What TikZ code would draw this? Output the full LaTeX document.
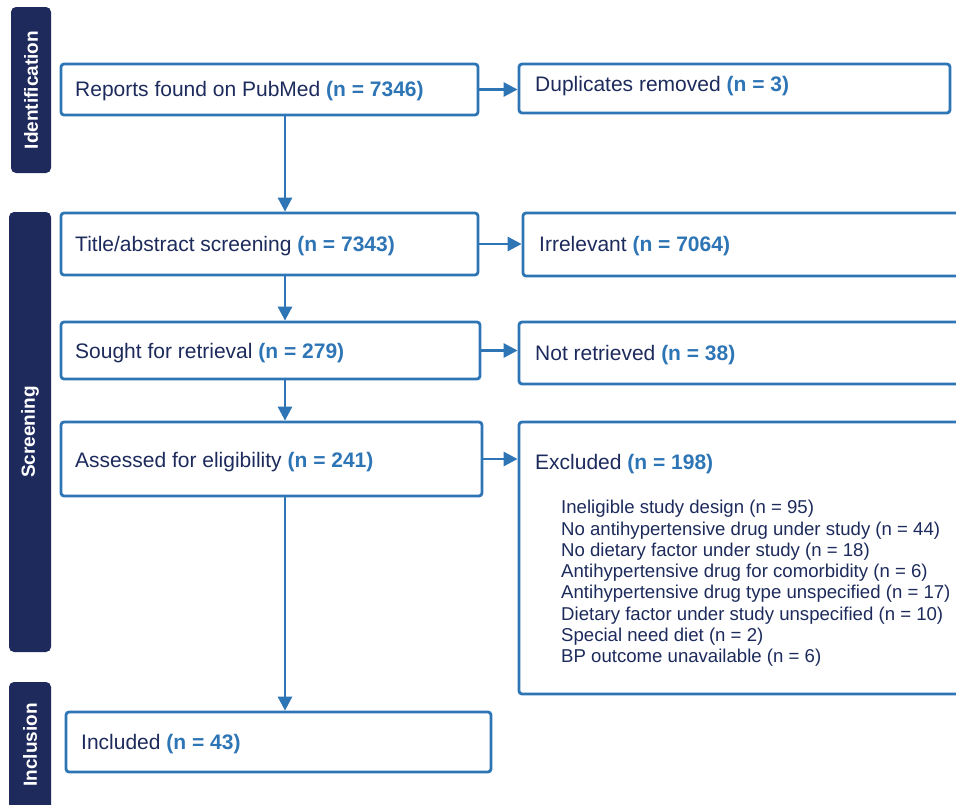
\documentclass[tikz,border=0pt]{standalone}
\usepackage{fontspec}
\setmainfont{Liberation Sans}
\usetikzlibrary{arrows.meta}
\definecolor{navy}{HTML}{1F2A5C}
\definecolor{pblue}{HTML}{2E75B6}
\definecolor{txt}{HTML}{1D2B5C}
\newcommand{\cnt}[1]{\textcolor{pblue}{\bfseries #1}}
\tikzset{
  box/.style={draw=pblue, line width=2.8pt, rounded corners=3pt, fill=white, inner sep=0pt},
  side/.style={fill=navy, rounded corners=5pt, rotate=90, text=white, font=\fontsize{19}{22}\selectfont\bfseries, inner sep=0pt},
  lbl/.style={anchor=west, text=txt, font=\fontsize{21}{25}\selectfont, inner sep=0pt},
  item/.style={anchor=west, text=txt, font=\fontsize{18.6}{21}\selectfont, inner sep=0pt},
  arr/.style={draw=pblue, line width=2.8pt, -{Triangle[length=14pt,width=14pt]}}
}
\begin{document}
\begin{tikzpicture}[x=1pt,y=-1pt]
\useasboundingbox (0,0) rectangle (956,804);
\clip (0,0) rectangle (956,804);
% sidebars
\node[side, minimum width=166, minimum height=40] (sideid) at (31,90) {Identification};
\node[side, minimum width=440, minimum height=42] (sidescr) at (30,432) {Screening};
\node[side, minimum width=140, minimum height=42] (sideinc) at (30,752) {};
\node[side, fill=none] (sideinctext) at (30,745) {Inclusion};
% boxes
\node[box, minimum width=417, minimum height=51] (reports) at (269.5,89.5) {};
\node[box, minimum width=431, minimum height=49] (dup) at (734.5,88.5) {};
\node[box, minimum width=417, minimum height=62] (title) at (269.5,244) {};
\node[box, minimum width=477, minimum height=63] (irr) at (761.5,244.5) {};
\node[box, minimum width=419, minimum height=57] (sought) at (270.5,350.5) {};
\node[box, minimum width=481, minimum height=62] (notret) at (759.5,353) {};
\node[box, minimum width=421, minimum height=74] (assessed) at (271.5,459) {};
\node[box, minimum width=481, minimum height=272] (excl) at (759.5,558) {};
\node[box, minimum width=425, minimum height=60] (incl) at (278.5,742) {};
% labels
\node[lbl] (treports) at (75,91.5) {Reports found on PubMed \cnt{(n = 7346)}};
\node[lbl] (tdup) at (535,86.5) {Duplicates removed \cnt{(n = 3)}};
\node[lbl] (ttitle) at (75,246.5) {Title/abstract screening \cnt{(n = 7343)}};
\node[lbl] (tirr) at (539,246.5) {Irrelevant \cnt{(n = 7064)}};
\node[lbl] (tsought) at (75,353.5) {Sought for retrieval \cnt{(n = 279)}};
\node[lbl] (tnotret) at (535,355.5) {Not retrieved \cnt{(n = 38)}};
\node[lbl] (tassessed) at (75,462.5) {Assessed for eligibility \cnt{(n = 241)}};
\node[lbl] (texcl) at (535,464.5) {Excluded \cnt{(n = 198)}};
\node[lbl] (tincl) at (81,744.5) {Included \cnt{(n = 43)}};
\node[item] (e1) at (561,509) {Ineligible study design (n = 95)};
\node[item] (e2) at (561,530.3) {No antihypertensive drug under study (n = 44)};
\node[item] (e3) at (561,551.6) {No dietary factor under study (n = 18)};
\node[item] (e4) at (561,572.9) {Antihypertensive drug for comorbidity (n = 6)};
\node[item] (e5) at (561,594.1) {Antihypertensive drug type unspecified (n = 17)};
\node[item] (e6) at (561,615.4) {Dietary factor under study unspecified (n = 10)};
\node[item] (e7) at (561,636.7) {Special need diet (n = 2)};
\node[item] (e8) at (561,658) {BP outcome unavailable (n = 6)};
% connectors
\coordinate (spine) at (285,0);
\draw[arr] (reports.east) -- (reports.east -| dup.west);
\draw[arr] (title.east) -- (title.east -| irr.west);
\draw[arr] (sought.east) -- (sought.east -| notret.west);
\draw[arr] (assessed.east) -- (assessed.east -| excl.west);
\draw[arr] (reports.south -| spine) -- (title.north -| spine);
\draw[arr] (title.south -| spine) -- (sought.north -| spine);
\draw[arr] (sought.south -| spine) -- (assessed.north -| spine);
\draw[arr] (assessed.south -| spine) -- (incl.north -| spine);
\end{tikzpicture}
\end{document}
